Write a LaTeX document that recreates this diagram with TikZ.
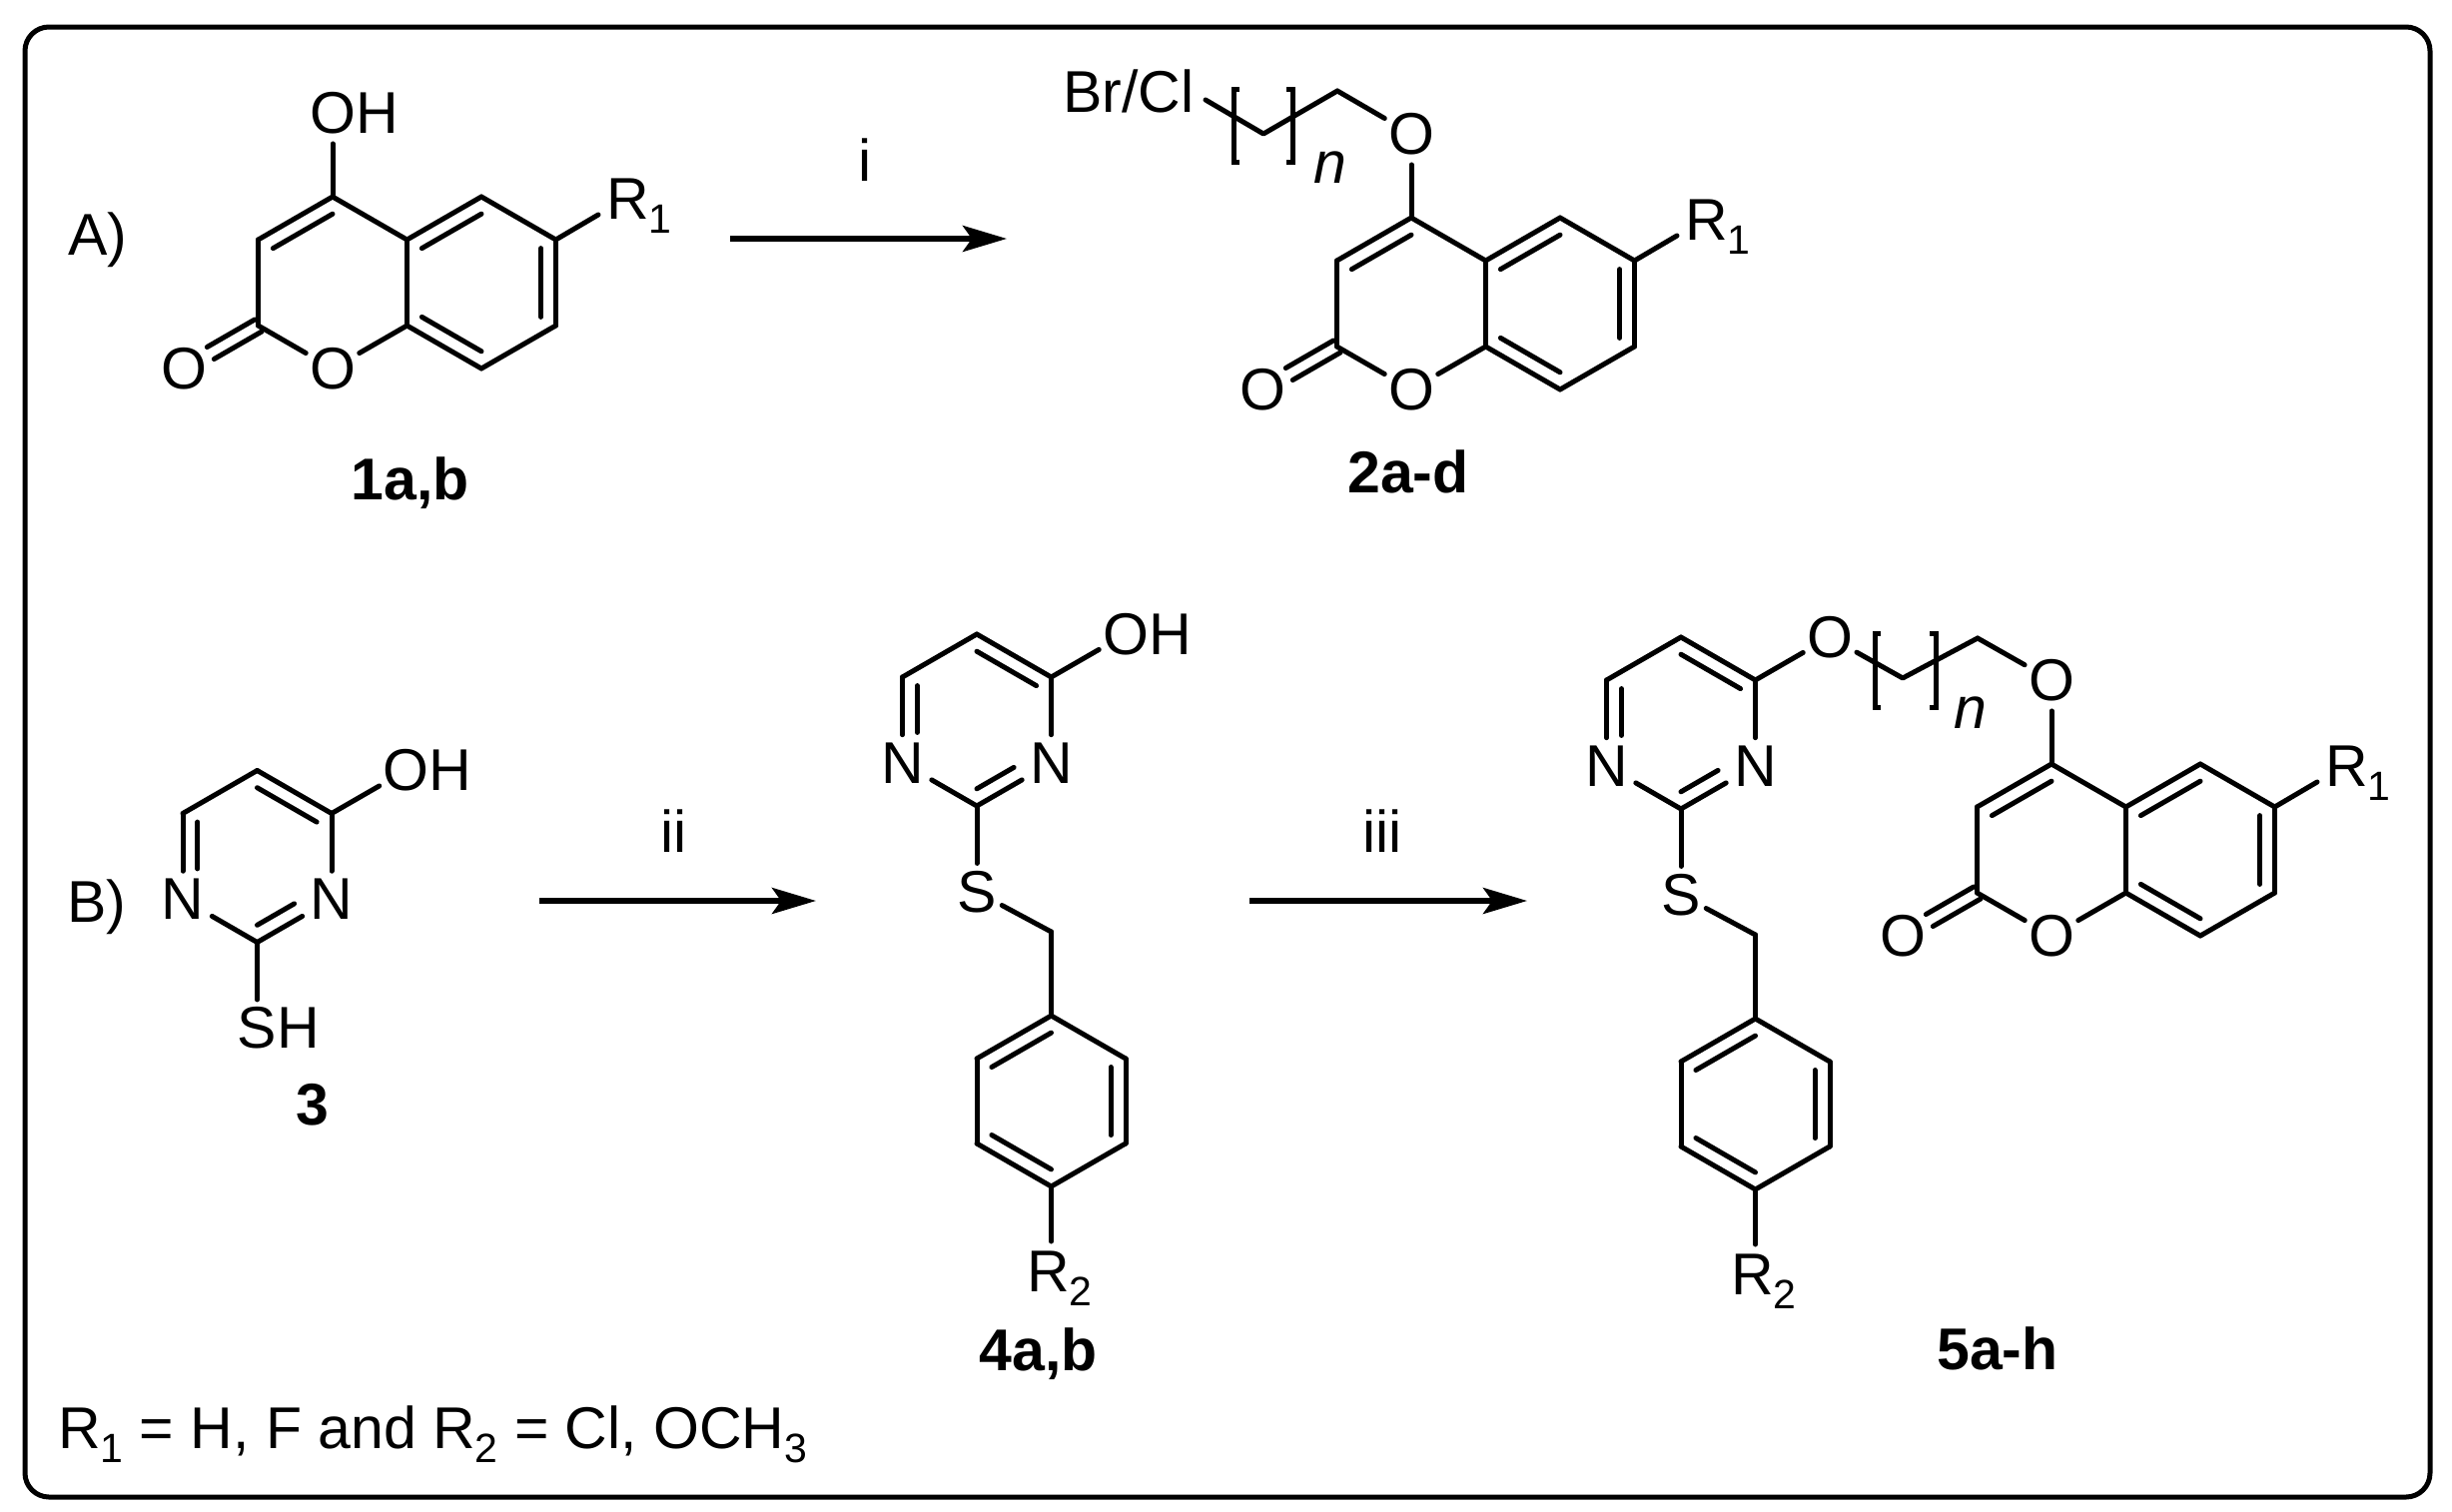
\documentclass[tikz,border=0pt]{standalone}
\usepackage{fontspec}
\setmainfont{Liberation Sans}
\usetikzlibrary{calc,arrows.meta}
\tikzset{
  bond/.style={line width=5pt,line cap=round,line join=round},
  bracket/.style={line width=5pt,line cap=butt,line join=miter},
  lab/.style={inner sep=0pt,outer sep=0pt,font=\fontsize{59}{63}\selectfont},
  boldlab/.style={lab,font=\fontsize{59}{63}\selectfont\bfseries},
  atom/.style={lab,shape=circle,inner sep=0pt},
  natom/.style={lab,shape=rectangle,inner sep=8pt},
  rxn/.style={line width=5.5pt,-{Stealth[length=44pt,width=26pt,inset=9pt]}},
  frame/.style={line width=5pt,rounded corners=24pt},
}
\newcommand\Subs[1]{\raisebox{-14pt}{\fontsize{41}{41}\selectfont #1}}
\newcommand\ChemBond[2]{\draw[bond] (#1) -- (#2);}
\newcommand\ChemInner[4][]{\draw[bond,#1] ($(#2)!.2!(#4)$) -- ($(#3)!.2!(#4)$);}
\newcommand\Coumarin[3]{%
\begin{scope}[shift={(#2,#3)},name prefix=#1-]
  \coordinate (c4) at (0,0);
  \coordinate (c3) at (-74.5,43);
  \coordinate (c2) at (-74.5,129);
  \coordinate (c8a) at (74.5,129);
  \coordinate (c4a) at (74.5,43);
  \coordinate (c5) at (149,0);
  \coordinate (c6) at (223.5,43);
  \coordinate (c7) at (223.5,129);
  \coordinate (c8) at (149,172);
  \coordinate (p) at (0,86);
  \coordinate (b) at (149,86);
  \coordinate (rb) at (266,18);
  \coordinate (xc) at (-149,172);
  \node[atom] (o1) at (0,172) {O};
  \node[atom] (xo) at (-149,172) {O};
  \node[atom] (oo) at (0,-84) {O};
  \node[lab,anchor=base west] (r) at (274,22) {R\Subs{1}};
  \ChemBond{c4}{c3}\ChemInner{c4}{c3}{p}
  \ChemBond{c3}{c2}\ChemBond{c2}{o1}\ChemBond{o1}{c8a}\ChemBond{c8a}{c4a}\ChemBond{c4a}{c4}
  \ChemBond{c4a}{c5}\ChemInner{c4a}{c5}{b}
  \ChemBond{c5}{c6}
  \ChemBond{c6}{c7}\ChemInner{c6}{c7}{b}
  \ChemBond{c7}{c8}
  \ChemBond{c8}{c8a}\ChemInner{c8}{c8a}{b}
  \ChemBond{c6}{rb}\ChemBond{c4}{oo}
  \draw[bond,shorten >=31pt] ($(c2)+(-3.5,-6)$) -- ($(xc)+(-3.5,-6)$);
  \draw[bond,shorten >=31pt] ($(c2)+(3.5,6)$) -- ($(xc)+(3.5,6)$);
\end{scope}}
\newcommand\Pyrimidine[3]{%
\begin{scope}[shift={(#2,#3)},name prefix=#1-]
  \coordinate (c5) at (0,0);
  \coordinate (c4) at (74.5,43);
  \coordinate (c6) at (-74.5,43);
  \coordinate (c2) at (0,172);
  \coordinate (q) at (0,86);
  \coordinate (nn1) at (-74.5,129);
  \coordinate (nn3) at (74.5,129);
  \node[natom] (n1) at (nn1) {N};
  \node[natom] (n3) at (nn3) {N};
  \node[atom] (s) at (0,258) {S};
  \node[atom] (oo) at (149,0) {O};
  \ChemBond{c5}{c4}\ChemInner{c5}{c4}{q}
  \ChemBond{c4}{n3}\ChemBond{c2}{n3}\ChemBond{c2}{n1}
  \ChemInner[shorten >=26pt]{c2}{nn3}{q}
  \ChemBond{c6}{n1}\ChemInner[shorten >=22pt]{c6}{nn1}{q}
  \ChemBond{c6}{c5}\ChemBond{c2}{s}\ChemBond{c4}{oo}
\end{scope}}
\newcommand\Benzyl[3]{%
\begin{scope}[shift={(#2,#3)},name prefix=#1-]
  \coordinate (ch) at (74.5,298);
  \coordinate (a1) at (74.5,382);
  \coordinate (a2) at (149,425);
  \coordinate (a3) at (149,510);
  \coordinate (a4) at (74.5,553);
  \coordinate (a5) at (0,510);
  \coordinate (a6) at (0,425);
  \coordinate (z) at (74.5,467.5);
  \coordinate (rb) at (74.5,608);
  \node[lab,anchor=base west] (r) at (50,658) {R\Subs{2}};
  \ChemBond{s}{ch}\ChemBond{ch}{a1}
  \ChemBond{a1}{a2}\ChemBond{a2}{a3}\ChemInner{a2}{a3}{z}
  \ChemBond{a3}{a4}\ChemBond{a4}{a5}\ChemInner{a4}{a5}{z}
  \ChemBond{a5}{a6}\ChemBond{a6}{a1}\ChemInner{a6}{a1}{z}
  \ChemBond{a4}{rb}
\end{scope}}
\begin{document}
\begin{tikzpicture}[x=1pt,y=-1pt]
\useasboundingbox (0,0) rectangle (2455,1513);
\fill[white] (0,0) rectangle (2455,1513);
\draw[frame] (25,27) rectangle (2433,1499);

% A) row
\node[lab,anchor=base west] (lA) at (68,255) {A)};
\Coumarin{m1}{333}{197}
\node[lab,anchor=base west] (m1H) at ($(m1-oo.base)+(23,0)$) {H};
\node[boldlab,anchor=base] (n1a) at (411,500) {1a,b};
\coordinate (ai1) at (731,239);
\coordinate (ai2) at (1008,239);
\draw[rxn] (ai1) -- (ai2);
\node[lab,anchor=base] (li) at (866,181) {i};

\Coumarin{m2}{1413}{218}
\coordinate (k1) at (1339,91);
\coordinate (k2) at (1265,134);
\coordinate (k3) at (1207,100);
\draw[bond] (k3) -- (k2) -- (k1);
\ChemBond{k1}{m2-oo}
\node[lab,anchor=base west] (brcl) at (1064.5,112) {Br/Cl};
\draw[bracket] (1241,89) -- (1235,89) -- (1235,162) -- (1241,162);
\draw[bracket] (1288,89) -- (1294,89) -- (1294,162) -- (1288,162);
\node[lab,anchor=base west,font=\fontsize{59}{63}\selectfont\itshape] (n2) at (1315,183) {n};
\node[boldlab,anchor=base] (n2a) at (1410,493) {2a-d};

% B) row
\node[lab,anchor=base west] (lB) at (67.5,923) {B)};
\Pyrimidine{m3}{257.5}{771.5}
\node[lab,anchor=base west] (m3H) at ($(m3-oo.base)+(23,0)$) {H};
\node[lab,anchor=base west] (m3SH) at ($(m3-s.base)+(19.7,0)$) {H};
\node[boldlab,anchor=base] (n3a) at (313,1126) {3};
\coordinate (aii1) at (540,902);
\coordinate (aii2) at (817,902);
\draw[rxn] (aii1) -- (aii2);
\node[lab,anchor=base] (lii) at (675,853) {ii};

\Pyrimidine{m4}{978}{635}
\Benzyl{m4}{978}{635}
\node[lab,anchor=base west] (m4H) at ($(m4-oo.base)+(23,0)$) {H};
\node[boldlab,anchor=base] (n4a) at (1040,1372) {4a,b};
\coordinate (aiii1) at (1251,902);
\coordinate (aiii2) at (1529,902);
\draw[rxn] (aiii1) -- (aiii2);
\node[lab,anchor=base] (liii) at (1384,853) {iii};

\Pyrimidine{m5}{1683}{638}
\Benzyl{m5}{1683}{638}
\Coumarin{m6}{2054}{765}
\coordinate (j1) at (1905,679);
\coordinate (j2) at (1980,639);
\draw[bond] (m5-oo) -- (j1) -- (j2);
\ChemBond{j2}{m6-oo}
\draw[bracket] (1883,634) -- (1877,634) -- (1877,708) -- (1883,708);
\draw[bracket] (1932,634) -- (1938,634) -- (1938,708) -- (1932,708);
\node[lab,anchor=base west,font=\fontsize{59}{63}\selectfont\itshape] (n5) at (1956,729) {n};
\node[boldlab,anchor=base] (n5a) at (2000,1371) {5a-h};

\node[lab,anchor=base west] (cap) at (58,1450) {R\Subs{1} = H, F and R\Subs{2} = Cl, OCH\Subs{3}};
\end{tikzpicture}
\end{document}
